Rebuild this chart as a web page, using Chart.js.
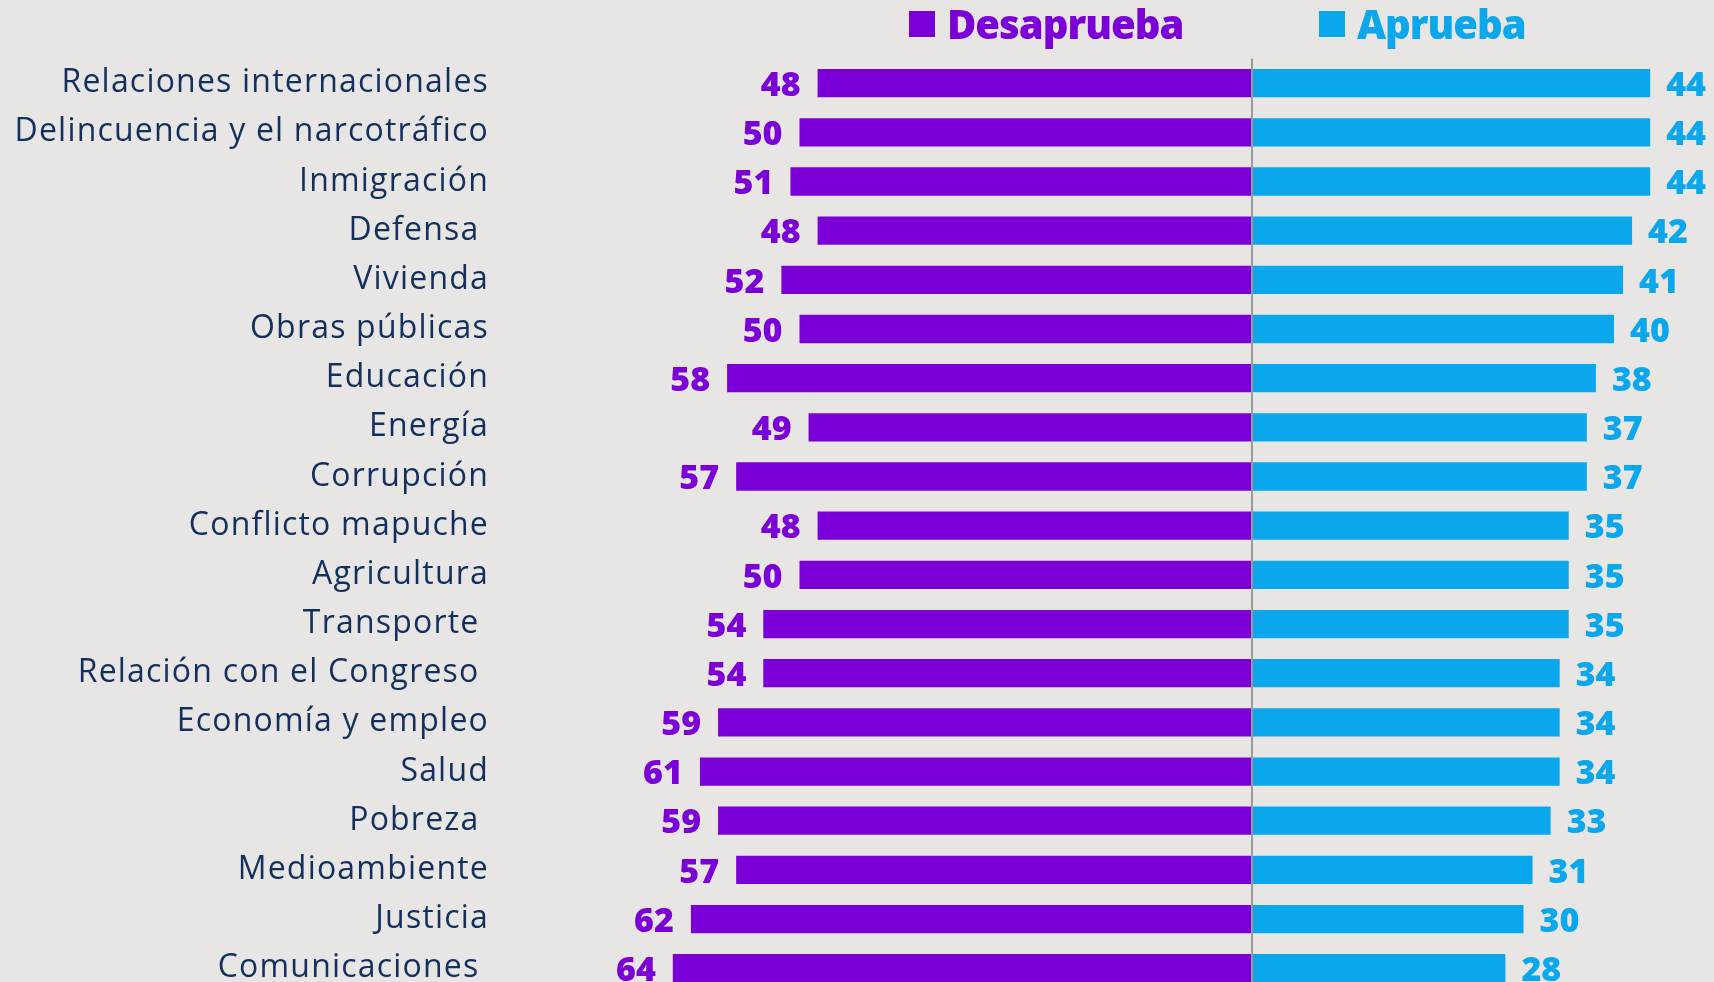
<!DOCTYPE html>
<html lang="es">
<head>
<meta charset="utf-8">
<title>Aprobación por área</title>
<script src="https://cdn.jsdelivr.net/npm/chart.js@4/dist/chart.umd.min.js"></script>
<style>
  html, body { margin: 0; padding: 0; background: #e8e6e4; overflow: hidden; }
  #wrap { position: relative; width: 1714px; height: 1020px; }
  .legend-item {
    position: absolute;
    top: 2px;
    display: flex;
    align-items: center;
    font-family: "Open Sans", sans-serif;
    font-weight: 800;
    font-size: 40px;
    line-height: 44px;
    letter-spacing: -1px;
  }
  .legend-item span.box { width: 26px; height: 26px; margin-right: 12px; display: inline-block; }
</style>
</head>
<body>
<div id="wrap">
  <canvas id="approvalChart" width="1714" height="1020"></canvas>
  <div class="legend-item" id="legDes" style="left: 909px; color: #7b00d7;"><span class="box" style="background: #7b00d7;"></span>Desaprueba</div>
  <div class="legend-item" id="legApr" style="left: 1319px; color: #0aa7ec;"><span class="box" style="background: #0aa7ec;"></span>Aprueba</div>
</div>
<script>
const categories = [
  'Relaciones internacionales',
  'Delincuencia y el narcotráfico',
  'Inmigración',
  'Defensa ',
  'Vivienda',
  'Obras públicas',
  'Educación',
  'Energía',
  'Corrupción',
  'Conflicto mapuche',
  'Agricultura',
  'Transporte ',
  'Relación con el Congreso ',
  'Economía y empleo',
  'Salud',
  'Pobreza ',
  'Medioambiente',
  'Justicia',
  'Comunicaciones '
];

const desaprueba = [48, 50, 51, 48, 52, 50, 58, 49, 57, 48, 50, 54, 54, 59, 61, 59, 57, 62, 64];
const aprueba = [44, 44, 44, 42, 41, 40, 38, 37, 37, 35, 35, 35, 34, 34, 34, 33, 31, 30, 28];

const desColor = '#7b00d7';
const aprColor = '#0aa7ec';
const labelColor = '#132f5e';

// a bit of tracking so the category names come out as wide as the original font
const tickSpacing = {
  id: 'tickSpacing',
  beforeDraw(chart) { chart.ctx.letterSpacing = '1.2px'; },
  afterDraw(chart) { chart.ctx.letterSpacing = '0px'; }
};

// numbers at the end of each bar
const valueLabels = {
  id: 'valueLabels',
  afterDatasetsDraw(chart) {
    const ctx = chart.ctx;
    ctx.save();
    ctx.letterSpacing = '0px';
    ctx.font = '800 34px "Open Sans"';
    ctx.textBaseline = 'middle';
    chart.data.datasets.forEach((ds, i) => {
      const meta = chart.getDatasetMeta(i);
      meta.data.forEach((bar, j) => {
        const v = ds.data[j];
        ctx.fillStyle = ds.backgroundColor;
        if (v < 0) {
          ctx.textAlign = 'right';
          ctx.fillText(Math.abs(v), bar.x - 17, bar.y + 3);
        } else {
          ctx.textAlign = 'left';
          ctx.fillText(v, bar.x + 16, bar.y + 3);
        }
      });
    });
    ctx.restore();
  }
};

const approvalData = {
  labels: categories,
  datasets: [{
    label: 'Desaprueba',
    backgroundColor: desColor,
    data: desaprueba.map(v => -v),
    categoryPercentage: 1,
    barPercentage: 0.576
  }, {
    label: 'Aprueba',
    backgroundColor: aprColor,
    data: aprueba,
    categoryPercentage: 1,
    barPercentage: 0.576
  }]
};

const approvalConfig = {
  type: 'bar',
  data: approvalData,
  options: {
    indexAxis: 'y',
    responsive: false,
    animation: false,
    layout: { padding: { top: 58.6, right: 9.5, bottom: 27.2, left: 0 } },
    plugins: {
      legend: { display: false },
      tooltip: { enabled: false }
    },
    scales: {
      x: {
        stacked: true,
        min: -80,
        max: 50,
        z: 1,
        ticks: { display: false, stepSize: 10 },
        border: { display: false },
        grid: {
          drawTicks: false,
          lineWidth: 2,
          color: (c) => (c.tick && c.tick.value === 0 ? '#9a9a9a' : 'rgba(0,0,0,0)')
        }
      },
      y: {
        stacked: true,
        border: { display: false },
        grid: { display: false, drawTicks: false },
        ticks: {
          padding: 39,
          color: labelColor,
          font: { family: '"Open Sans"', size: 32 }
        },
        afterFit: (scale) => {
          scale.width = 528;
          scale.paddingTop = 0;
          scale.paddingBottom = 0;
        }
      }
    }
  },
  plugins: [tickSpacing, valueLabels]
};

document.addEventListener('DOMContentLoaded', () => {
  const approvalChart = new Chart(
    document.getElementById('approvalChart'),
    approvalConfig
  );
});
</script>
</body>
</html>
